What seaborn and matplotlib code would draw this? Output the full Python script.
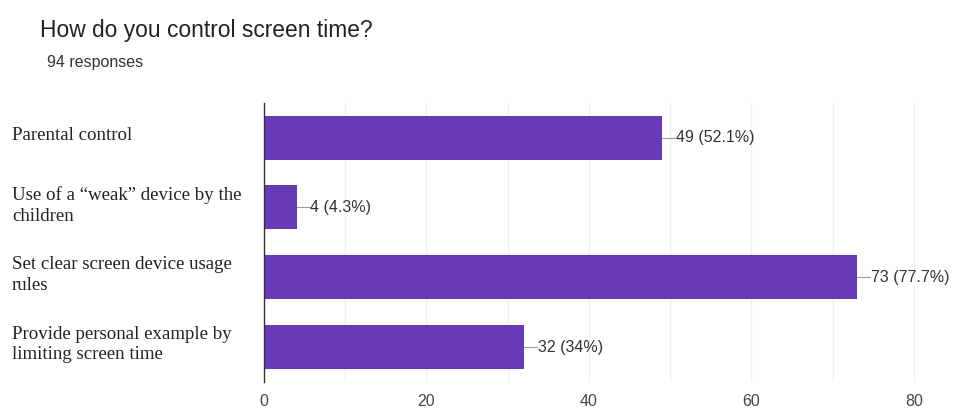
import matplotlib.pyplot as plt
import seaborn as sns
import pandas as pd

categories = [
    "Parental control",
    "Use of a \u201cweak\u201d device by the\nchildren",
    "Set clear screen device usage\nrules",
    "Provide personal example by\nlimiting screen time",
]
counts = [49, 4, 73, 32]
percents = ["52.1%", "4.3%", "77.7%", "34%"]
xticks = [0, 20, 40, 60, 80]

df = pd.DataFrame({"option": categories, "count": counts})

sns.set_theme(style="white")
plt.rcParams['font.family'] = ['Liberation Sans', 'DejaVu Sans']

fig = plt.figure(figsize=(9.58, 4.08), dpi=100)
ax = fig.add_axes([0.2756, 0.064, 0.6868, 0.684])

sns.barplot(data=df, x="count", y="option", color="#673ab7", saturation=1,
            width=0.63, linewidth=0, ax=ax, zorder=3)

ax.set_xlim(0, 81)
ax.set_ylim(3.5, -0.5)
ax.set_xticks(xticks)
ax.set_xticks(range(10, 81, 20), minor=True)
ax.grid(axis="x", which="both", color="#f0f0f0", linewidth=1, zorder=0)
ax.tick_params(axis="x", which="both", length=0, labelsize=11.5,
               labelcolor="#444444", pad=9)
ax.tick_params(axis="y", length=0)
ax.set_xlabel("")
ax.set_ylabel("")
ax.set_yticklabels([])

for s in ["top", "right", "bottom"]:
    ax.spines[s].set_visible(False)
ax.spines["left"].set_color("#333333")
ax.spines["left"].set_linewidth(1)
ax.spines["left"].set_zorder(5)

for i, (c, p) in enumerate(zip(counts, percents)):
    ax.plot([c, c + 1.6], [i, i], color="#999999", linewidth=0.8, zorder=4)
    ax.text(c + 1.7, i, f"{c} ({p})", va="center", ha="left",
            fontsize=11.5, color="#333333")

for i, cat in enumerate(categories):
    fig.text(12 / 958, 1 - (136 + 69.5 * i) / 408, cat, ha="left", va="center",
             fontsize=13.6, family=["Liberation Serif", "DejaVu Serif"],
             color="#222222", linespacing=1.25)

fig.text(40 / 958, 1 - 30 / 408, "How do you control screen time?",
         fontsize=16.4, color="#222222", va="center")
fig.text(47 / 958, 1 - 63 / 408, "94 responses", fontsize=11.5,
         color="#333333", va="center")

fig.savefig("out.png", dpi=100, facecolor="white")
